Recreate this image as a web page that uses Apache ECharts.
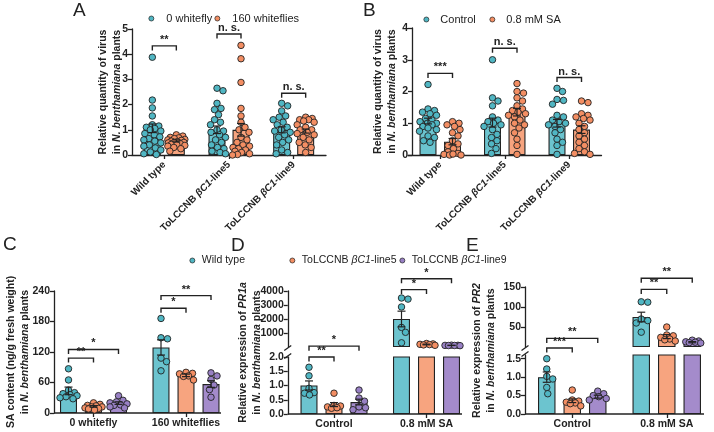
<!DOCTYPE html>
<html>
<head>
<meta charset="utf-8">
<script src="https://cdn.jsdelivr.net/npm/echarts@6/dist/echarts.min.js"></script>
<style>
  html, body { margin: 0; padding: 0; background: #fff; }
  #chart { width: 714px; height: 432px; }
</style>
</head>
<body>
<div id="chart"></div>
<script>
const INK = "#222";
const FONT = '"Liberation Sans", Arial, sans-serif';
const COLORS = {
  cyan: { bar: "#6cc4cf", dot: "#50b6c3" },
  orange: { bar: "#f7a47f", dot: "#f38e63" },
  purple: { bar: "#a48bcb", dot: "#9880c4" },
};

// ---------- DATA ----------
// A: virus quantity, whitefly infestation
const catsAB = ["Wild type", "ToLCCNB βC1-line5", "ToLCCNB βC1-line9"];
const namesA = ["0 whitefly", "160 whiteflies"];
const meanA0 = [1.06, 1.0, 1.0];
const semA0 = [0.17, 0.15, 0.12];
const meanA1 = [0.56, 1.0, 0.95];
const semA1 = [0.04, 0.25, 0.08];
const dotsA0 = [
  [3.88, 2.18, 1.87, 1.55, 1.2, 1.15, 1.1, 1.05, 1.0, 0.95, 0.85, 0.8, 0.72, 0.65, 0.6, 0.55, 0.48, 0.4, 0.35, 0.28, 0.2, 0.12, 0.05, 0.02],
  [2.65, 2.55, 2.05, 1.85, 1.8, 1.6, 1.4, 1.3, 1.2, 1.0, 0.95, 0.9, 0.8, 0.7, 0.6, 0.5, 0.4, 0.3, 0.25, 0.15, 0.1, 0.05],
  [2.05, 1.95, 1.75, 1.55, 1.5, 1.4, 1.3, 1.2, 1.1, 1.0, 0.95, 0.9, 0.8, 0.7, 0.6, 0.5, 0.4, 0.2, 0.1, 0.05],
];
const dotsA1 = [
  [0.8, 0.75, 0.7, 0.68, 0.65, 0.62, 0.6, 0.58, 0.55, 0.53, 0.5, 0.5, 0.48, 0.45, 0.42, 0.4, 0.38, 0.35, 0.3, 0.25, 0.15],
  [4.35, 3.82, 2.88, 1.85, 1.55, 1.3, 1.1, 1.0, 0.9, 0.7, 0.6, 0.5, 0.4, 0.35, 0.3, 0.25, 0.2, 0.15, 0.1, 0.05, 0.02, 0.0],
  [1.5, 1.45, 1.4, 1.4, 1.35, 1.3, 1.2, 1.1, 1.0, 1.0, 0.9, 0.85, 0.8, 0.7, 0.6, 0.5, 0.4, 0.3, 0.1],
];
// [cat1, bar1, cat2, bar2, y, label]
const sigA = [[0, 0, 0, 1, 4.33, "**"], [1, 0, 1, 1, 4.8, "n. s."], [2, 0, 2, 1, 2.45, "n. s."]];

// B: virus quantity, SA treatment
const namesB = ["Control", "0.8 mM SA"];
const meanB0 = [1.07, 1.02, 1.0];
const semB0 = [0.09, 0.14, 0.12];
const meanB1 = [0.42, 1.35, 0.8];
const semB1 = [0.1, 0.12, 0.12];
const dotsB0 = [
  [2.22, 1.45, 1.4, 1.35, 1.3, 1.25, 1.15, 1.1, 1.05, 1.0, 1.0, 0.95, 0.9, 0.85, 0.8, 0.75, 0.6, 0.55, 0.45, 0.4],
  [3.0, 1.8, 1.7, 1.55, 1.2, 1.1, 1.05, 1.0, 0.95, 0.9, 0.8, 0.65, 0.55, 0.45, 0.35, 0.2, 0.05],
  [2.1, 2.0, 1.75, 1.72, 1.6, 1.25, 1.2, 1.1, 1.05, 1.0, 0.95, 0.9, 0.8, 0.7, 0.5, 0.4, 0.3, 0.02],
];
const dotsB1 = [
  [1.05, 1.0, 0.95, 0.9, 0.8, 0.7, 0.6, 0.45, 0.35, 0.3, 0.2, 0.1, 0.05, 0.02, 0.0, 0.0, 0.03],
  [2.25, 2.0, 1.95, 1.8, 1.7, 1.55, 1.45, 1.4, 1.35, 1.3, 1.25, 1.2, 1.1, 1.0, 0.95, 0.85, 0.7, 0.5, 0.3, 0.02],
  [1.7, 1.65, 1.3, 1.25, 1.2, 1.15, 1.1, 1.0, 0.9, 0.8, 0.7, 0.6, 0.5, 0.4, 0.3, 0.2, 0.1, 0.05, 0.02],
];
const sigB = [[0, 0, 0, 1, 2.57, "***"], [1, 0, 1, 1, 3.36, "n. s."], [2, 0, 2, 1, 2.44, "n. s."]];

// C, D, E: three genotypes
const namesCDE = ["Wild type", "ToLCCNB βC1-line5", "ToLCCNB βC1-line9"];
const catsC = ["0 whitefly", "160 whiteflies"];
const meanC = [[43.5, 129], [13, 74], [19.5, 57]];
const semC = [[7.5, 15], [1.5, 2.5], [2.5, 6.5]];
const dotsC = [
  [[87, 65, 45, 40, 38, 36, 34, 32, 30, 28], [186, 148, 146, 108, 101, 83]],
  [[20, 17, 15, 14, 12, 12, 10, 9, 8, 6], [80, 78, 77, 73, 72, 65]],
  [[34, 25, 22, 20, 18, 16, 15, 12, 10], [79, 73, 66, 55, 46, 31]],
];
const sigC = [[0, 0, 0, 1, 108, "**"], [0, 0, 0, 2, 125, "*"], [1, 0, 1, 1, 206, "*"], [1, 0, 1, 2, 231, "**"]];

const catsDE = ["Control", "0.8 mM SA"];
const meanD = [[1.0, 2000], [0.33, 180], [0.42, 115]];
const semD = [[0.16, 560], [0.07, 25], [0.1, 8]];
const dotsD = [
  [[1.64, 1.34, 0.9, 0.75, 0.73, 0.67], [3500, 3420, 2860, 1400, 1050, 300]],
  [[0.73, 0.3, 0.25, 0.28, 0.2, 0.22], [250, 220, 190, 170, 150, 120]],
  [[0.84, 0.56, 0.45, 0.25, 0.22, 0.15], [130, 120, 115, 110, 105, 95]],
];
const sigDLow = [[0, 0, 0, 1, 2.0, "**"], [0, 0, 0, 2, 2.38, "*"]];
const sigDHigh = [[1, 0, 1, 1, 4100, "*"], [1, 0, 1, 2, 4870, "*"]];

const meanE = [[1.0, 75], [0.36, 26], [0.47, 12]];
const semE = [[0.14, 12], [0.05, 5], [0.04, 1.5]];
const dotsE = [
  [[1.5, 1.22, 1.02, 0.95, 0.72, 0.55], [113, 112, 70, 66, 60, 37]],
  [[0.65, 0.38, 0.35, 0.32, 0.3, 0.28, 0.22], [50, 30, 28, 24, 20, 18, 15]],
  [[0.62, 0.55, 0.5, 0.47, 0.42, 0.38], [17, 15, 13, 12, 11, 10]],
];
const sigELow = [[0, 0, 0, 1, 1.79, "***"], [0, 0, 0, 2, 2.05, "**"]];
const sigEHigh = [[1, 0, 1, 1, 144, "**"], [1, 0, 1, 2, 172, "**"]];

// ---------- LAYOUT ----------
const G = {
  A: { left: 132, top: 29, width: 194, height: 126, min: 0, max: 5, bw: 17, step: 24 },
  B: { left: 408, top: 28, width: 193.5, height: 127, min: 0, max: 4, bw: 17, step: 24.5 },
  C: { left: 47.25, top: 291, width: 185, height: 122, min: 0, max: 240, bw: 17, step: 25 },
  DL: { left: 287.75, top: 357, width: 185, height: 57, min: 0, max: 2, bw: 17, step: 25 },
  DU: { left: 287.75, top: 291, width: 185, height: 56, min: 0, max: 4000, bw: 17, step: 25 },
  EL: { left: 525, top: 355, width: 190, height: 59, min: 0, max: 1.6, bw: 17.5, step: 25.5 },
  EU: { left: 525, top: 287, width: 190, height: 60, min: 0, max: 150, bw: 17.5, step: 25.5 },
  DN: { left: 287.75, top: 291, width: 185, height: 123, min: 0, max: 1 },
  EN: { left: 525, top: 287, width: 190, height: 127, min: 0, max: 1 },
};
const gridKeys = Object.keys(G);
const gi = (k) => gridKeys.indexOf(k);

const richI = (size, weight) => ({ i: { fontStyle: "italic", fontWeight: weight, fontSize: size, fontFamily: FONT, color: INK } });
const italBeta = (s) => s.replace("βC1", "{i|βC1}");

// beeswarm offsets in px for one group of values
function swarm(vals, ppu, dia, cap) {
  const placed = [];
  const out = [];
  const order = vals.map((v, i) => i).sort((a, b) => vals[b] - vals[a]);
  const cands = [0];
  for (let s = 0.5; s <= cap; s += 0.5) cands.push(s, -s);
  order.forEach((i) => {
    const y = vals[i] * ppu;
    let best = 0, bestD = -1;
    for (const c of cands) {
      let md = Infinity;
      for (const p of placed) md = Math.min(md, Math.hypot(p[0] - c, p[1] - y));
      if (md >= dia) { best = c; break; }
      if (md > bestD) { bestD = md; best = c; }
    }
    placed.push([best, y]);
    out[i] = best;
  });
  return out;
}

const barOffset = (g, j, n) => (j - (n - 1) / 2) * g.step;

// bars + dots + error bars for one grid
function groupSeries(key, names, means, sems, dots, palette, keep) {
  const g = G[key];
  const idx = gi(key);
  const n = means.length;
  const ppu = g.height / (g.max - g.min);
  const out = [];
  means.forEach((m, j) => {
    const col = COLORS[palette[j]];
    const off = barOffset(g, j, n);
    out.push({
      type: "bar", name: names[j], xAxisIndex: idx, yAxisIndex: idx, silent: true, z: 2,
      barWidth: g.bw, barGap: ((g.step - g.bw) / g.bw * 100).toFixed(1) + "%",
      data: m.map((v) => (keep(v, "bar") ? v : "-")),
      itemStyle: { color: col.bar, borderColor: INK, borderWidth: 1.1 },
    });
    const pts = [];
    dots[j].forEach((vals, c) => {
      const sw = swarm(vals, ppu, 6.3, g.bw / 2);
      vals.forEach((v, k) => {
        if (keep(v, "dot")) pts.push({ value: [c, v], symbolOffset: [off + sw[k], 0] });
      });
    });
    out.push({
      type: "scatter", name: names[j], xAxisIndex: idx, yAxisIndex: idx, silent: true, z: 4,
      clip: false, symbol: "circle", symbolSize: 6.5, data: pts,
      itemStyle: { color: col.dot, borderColor: INK, borderWidth: 0.9, opacity: 1 },
    });
    out.push({
      type: "custom", xAxisIndex: idx, yAxisIndex: idx, silent: true, z: 5, clip: false,
      data: m.map((v, c) => [c, v, sems[j][c]]).filter((d) => keep(d[1], "err")),
      renderItem: (params, api) => {
        const c = api.value(0), v = api.value(1), s = api.value(2);
        const t = api.coord([c, v + s]), b = api.coord([c, v - s]);
        const x = t[0] + off;
        const st = { stroke: INK, lineWidth: 1.2 };
        return {
          type: "group",
          children: [
            { type: "line", shape: { x1: x, y1: t[1], x2: x, y2: b[1] }, style: st },
            { type: "line", shape: { x1: x - 4, y1: t[1], x2: x + 4, y2: t[1] }, style: st },
            { type: "line", shape: { x1: x - 4, y1: b[1], x2: x + 4, y2: b[1] }, style: st },
          ],
        };
      },
    });
  });
  return out;
}

function bracketSeries(key, list, n) {
  const g = G[key];
  const idx = gi(key);
  return {
    type: "custom", xAxisIndex: idx, yAxisIndex: idx, silent: true, z: 6, clip: false,
    data: list.map((b) => [b[0], b[4]]),
    renderItem: (params, api) => {
      const b = list[params.dataIndex];
      const p1 = api.coord([b[0], b[4]]);
      const p2 = api.coord([b[2], b[4]]);
      const x1 = p1[0] + barOffset(g, b[1], n);
      const x2 = p2[0] + barOffset(g, b[3], n);
      const y = p1[1];
      return {
        type: "group",
        children: [
          { type: "polyline", shape: { points: [[x1, y + 4.5], [x1, y], [x2, y], [x2, y + 4.5]] },
            style: { stroke: INK, lineWidth: 1.4, fill: "none" } },
          { type: "text", x: (x1 + x2) / 2, y: y - 0.5,
            style: { text: b[5], align: "center", verticalAlign: "bottom", fill: INK,
              font: "bold 11px " + FONT } },
        ],
      };
    },
  };
}

// ---------- AXES ----------
const labelStyle = { fontFamily: FONT, fontSize: 10.5, fontWeight: "bold", color: INK, margin: 4 };
const axisLine = { show: true, lineStyle: { color: INK, width: 1.3 } };
const axisTick = { show: true, length: 4, lineStyle: { color: INK, width: 1.3 } };
const nameStyle = {
  fontFamily: FONT, fontSize: 10.5, fontWeight: "bold", color: INK, lineHeight: 14,
  rich: { i: { fontStyle: "italic", fontWeight: "bold", fontSize: 10.5, fontFamily: FONT, color: INK, lineHeight: 14 } },
};

const grids = gridKeys.map((k) => ({ left: G[k].left, top: G[k].top, width: G[k].width, height: G[k].height }));

const xCat = (key, cats, opts) => Object.assign({
  type: "category", gridIndex: gi(key), data: cats,
  axisLine: axisLine, axisTick: Object.assign({ alignWithLabel: true }, axisTick),
  axisLabel: Object.assign({}, labelStyle, { interval: 0, margin: 5 }),
  splitLine: { show: false },
}, opts || {});

const rotLabel = Object.assign({}, labelStyle, { interval: 0, rotate: 45, fontSize: 10, margin: 8,
  formatter: italBeta, rich: richI(10, "bold") });

const xAxes = [
  xCat("A", catsAB, { axisLabel: rotLabel }),
  xCat("B", catsAB, { axisLabel: rotLabel }),
  xCat("C", catsC, { axisLine: { show: false } }),
  xCat("DL", catsDE, { axisLine: { show: false } }),
  xCat("DU", catsDE, { show: false }),
  xCat("EL", catsDE, { axisLine: { show: false } }),
  xCat("EU", catsDE, { show: false }),
  xCat("DN", catsDE, { show: false }),
  xCat("EN", catsDE, { show: false }),
];

const yVal = (key, opts) => Object.assign({
  type: "value", gridIndex: gi(key), min: G[key].min, max: G[key].max,
  axisLine: axisLine, axisTick: axisTick, axisLabel: labelStyle, splitLine: { show: false },
  nameLocation: "middle", nameRotate: 90, nameTextStyle: nameStyle, nameMoveOverlap: false,
}, opts || {});

const plain = (v) => String(v);

const yAxes = [
  yVal("A", { interval: 1, name: "Relative quantity of virus\nin {i|N. benthamiana} plants", nameGap: 8 }),
  yVal("B", { interval: 1, offset: -4, name: "Relative quantity of virus\nin {i|N. benthamiana} plants", nameGap: 13 }),
  yVal("C", { interval: 60, offset: -6.75, name: "SA content (ng/g fresh weight)\nin {i|N. benthamiana} plants", nameGap: 22 }),
  yVal("DL", { interval: 0.5, axisLabel: Object.assign({}, labelStyle, { formatter: (v) => v.toFixed(1) }) }),
  yVal("DU", { interval: 1000,
    axisLabel: Object.assign({}, labelStyle, { customValues: [1000, 2000, 3000, 4000], formatter: plain }),
    axisTick: Object.assign({}, axisTick, { customValues: [1000, 2000, 3000, 4000] }) }),
  yVal("EL", {
    axisLabel: Object.assign({}, labelStyle, { customValues: [0, 0.5, 1, 1.5], formatter: (v) => v.toFixed(1) }),
    axisTick: Object.assign({}, axisTick, { customValues: [0, 0.5, 1, 1.5] }) }),
  yVal("EU", {
    axisLabel: Object.assign({}, labelStyle, { customValues: [50, 100, 150], formatter: plain }),
    axisTick: Object.assign({}, axisTick, { customValues: [50, 100, 150] }) }),
  yVal("DN", { axisLine: { show: false }, axisTick: { show: false }, axisLabel: { show: false },
    name: "Relative expression of {i|PR1a}\nin {i|N. benthamiana} plants", nameGap: 24 }),
  yVal("EN", { axisLine: { show: false }, axisTick: { show: false }, axisLabel: { show: false },
    name: "Relative expression of {i|PR2}\nin {i|N. benthamiana} plants", nameGap: 27 }),
];

// ---------- SERIES ----------
const all = () => true;
const lowD = (v) => v <= G.DL.max;
const highD = (v) => v > G.DL.max;
const lowE = (v) => v <= G.EL.max;
const highE = (v) => v > G.EL.max;
const keepLow = (test) => (v, kind) => (kind === "bar" ? true : test(v));
const pal2 = ["cyan", "orange"];
const pal3 = ["cyan", "orange", "purple"];

const series = [].concat(
  groupSeries("A", namesA, [meanA0, meanA1], [semA0, semA1], [dotsA0, dotsA1], pal2, all),
  bracketSeries("A", sigA, 2),
  groupSeries("B", namesB, [meanB0, meanB1], [semB0, semB1], [dotsB0, dotsB1], pal2, all),
  bracketSeries("B", sigB, 2),
  groupSeries("C", namesCDE, meanC, semC, dotsC, pal3, all),
  bracketSeries("C", sigC, 3),
  groupSeries("DL", namesCDE, meanD, semD, dotsD, pal3, keepLow(lowD)),
  groupSeries("DU", namesCDE, meanD, semD, dotsD, pal3, highD),
  bracketSeries("DL", sigDLow, 3),
  bracketSeries("DU", sigDHigh, 3),
  groupSeries("EL", namesCDE, meanE, semE, dotsE, pal3, keepLow(lowE)),
  groupSeries("EU", namesCDE, meanE, semE, dotsE, pal3, highE),
  bracketSeries("EL", sigELow, 3),
  bracketSeries("EU", sigEHigh, 3)
);

// ---------- LEGENDS, LETTERS, DECOR ----------
function legendItem(name, left, cy, color, pad, size) {
  return {
    left: left, top: cy - 7, padding: 0, selectedMode: false, itemWidth: 5, itemHeight: 5,
    data: [{ name: name, icon: "circle", itemStyle: { color: color, borderColor: INK, borderWidth: 0.7 } }],
    formatter: italBeta,
    textStyle: { fontFamily: FONT, fontSize: size, color: INK, padding: [0, 0, 0, pad], rich: richI(size, "normal") },
  };
}
const legends = [
  legendItem(namesA[0], 148.5, 20, COLORS.cyan.dot, 7.5, 11),
  legendItem(namesA[1], 214.5, 20, COLORS.orange.dot, 7.5, 11),
  legendItem(namesB[0], 423.5, 21, COLORS.cyan.dot, 6.5, 11),
  legendItem(namesB[1], 489.5, 21, COLORS.orange.dot, 6.5, 11),
  legendItem(namesCDE[0], 189.5, 262, COLORS.cyan.dot, 2, 10.5),
  legendItem(namesCDE[1], 289.5, 262, COLORS.orange.dot, 2, 10.5),
  legendItem(namesCDE[2], 399.5, 262, COLORS.purple.dot, 2, 10.5),
];

const letter = (t, left, top) => ({ text: t, left: left, top: top, padding: 0,
  textStyle: { fontFamily: FONT, fontSize: 19, fontWeight: "normal", color: INK } });
const titles = [letter("A", 73, 1), letter("B", 363, 1), letter("C", 3, 235), letter("D", 231, 236), letter("E", 466, 236)];

const decoLine = { stroke: INK, lineWidth: 1.3 };
const hLine = (x1, x2, y) => ({ type: "line", silent: true, shape: { x1: x1, y1: y, x2: x2, y2: y }, style: decoLine });
const slash = (x, y) => ({ type: "line", silent: true, shape: { x1: x - 3.5, y1: y + 2.5, x2: x + 3.5, y2: y - 2.5 }, style: decoLine });
const cAxisX = G.C.left + 6.75;
const graphics = [
  hLine(cAxisX, 221, G.C.top + G.C.height),
  hLine(G.DL.left, 462, G.DL.top + G.DL.height),
  hLine(G.EL.left, 704, G.EL.top + G.EL.height),
  slash(G.DU.left, G.DU.top + G.DU.height + 1),
  slash(G.DL.left, G.DL.top - 1),
  slash(G.EU.left, G.EU.top + G.EU.height + 1),
  slash(G.EL.left, G.EL.top - 1),
];

const chart = echarts.init(document.getElementById("chart"), null, { renderer: "canvas" });
chart.setOption({
  animation: false,
  backgroundColor: "#fff",
  textStyle: { fontFamily: FONT },
  title: titles,
  legend: legends,
  grid: grids,
  xAxis: xAxes,
  yAxis: yAxes,
  graphic: graphics,
  series: series,
});
</script>
</body>
</html>
